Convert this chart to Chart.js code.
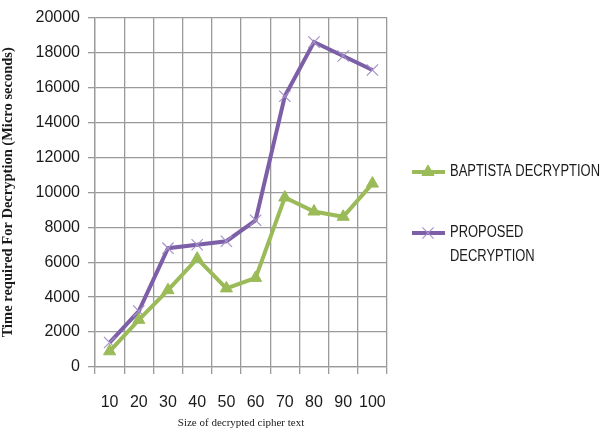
<!DOCTYPE html>
<html>
<head>
<meta charset="utf-8">
<script src="https://cdn.jsdelivr.net/npm/chart.js@4.4.1/dist/chart.umd.min.js"></script>
<style>
  html, body { margin: 0; padding: 0; background: #fff; }
  #wrap { width: 614px; height: 432px; }
</style>
</head>
<body>
<div id="wrap"><canvas id="decChart" width="614" height="432"></canvas></div>
<script>
// chart data
const categories = ['10', '20', '30', '40', '50', '60', '70', '80', '90', '100'];
const baptista = [900, 2700, 4400, 6200, 4500, 5100, 9700, 8900, 8600, 10500];
const proposed = [1400, 3200, 6800, 7000, 7200, 8400, 15500, 18600, 17800, 17000];
const yMax = 20000;
const yStep = 2000;

const GREEN = '#9BBB59';
const PURPLE = '#7D5FA8';
const PURPLE_MARK = '#A592C9';
const GRID = '#9a9a9a';
const TEXT = '#1b1b1b';

// legend drawn by hand so the long label can wrap like the original
const sideLegend = {
    id: 'sideLegend',
    beforeDraw: function(chart) {
        const ctx = chart.ctx;
        ctx.save();
        ctx.fillStyle = '#fff';
        ctx.fillRect(0, 0, chart.width, chart.height);
        ctx.restore();
    },
    afterDraw: function(chart) {
        const ctx = chart.ctx;
        const items = [
            { ds: chart.data.datasets[0], y: 172, lines: ['BAPTISTA DECRYPTION'] },
            { ds: chart.data.datasets[1], y: 233, lines: ['PROPOSED', 'DECRYPTION'] }
        ];
        ctx.save();
        ctx.font = '16px "Liberation Sans", sans-serif';
        // squeeze text to the narrow look of the original font
        const sx = 150 / ctx.measureText('BAPTISTA DECRYPTION').width;
        items.forEach(function(it) {
            ctx.strokeStyle = it.ds.borderColor;
            ctx.lineWidth = 4;
            ctx.beginPath();
            ctx.moveTo(412, it.y);
            ctx.lineTo(445, it.y);
            ctx.stroke();
            ctx.fillStyle = it.ds.pointBackgroundColor;
            ctx.strokeStyle = it.ds.pointBorderColor;
            ctx.lineWidth = it.ds.pointBorderWidth;
            Chart.helpers.drawPoint(ctx, {
                pointStyle: it.ds.pointStyle,
                radius: it.ds.pointRadius,
                borderWidth: it.ds.pointBorderWidth
            }, 428, it.y);
            ctx.fillStyle = TEXT;
            ctx.textBaseline = 'middle';
            ctx.textAlign = 'left';
            it.lines.forEach(function(t, i) {
                ctx.save();
                ctx.translate(450, it.y + i * 24);
                ctx.scale(sx, 1);
                ctx.fillText(t, 0, 0);
                ctx.restore();
            });
        });
        ctx.restore();
    }
};

const ctx = document.getElementById('decChart').getContext('2d');

new Chart(ctx, {
    type: 'line',
    data: {
        labels: categories,
        datasets: [{
            label: 'BAPTISTA DECRYPTION',
            data: baptista,
            borderColor: GREEN,
            backgroundColor: GREEN,
            borderWidth: 4,
            pointStyle: 'triangle',
            pointRadius: 7,
            pointBorderWidth: 1,
            pointBackgroundColor: GREEN,
            pointBorderColor: GREEN,
            tension: 0
        }, {
            label: 'PROPOSED DECRYPTION',
            data: proposed,
            borderColor: PURPLE,
            backgroundColor: PURPLE_MARK,
            borderWidth: 4,
            pointStyle: 'crossRot',
            pointRadius: 8,
            pointBorderWidth: 1.2,
            pointBackgroundColor: PURPLE_MARK,
            pointBorderColor: PURPLE_MARK,
            tension: 0
        }]
    },
    options: {
        responsive: false,
        animation: false,
        layout: { padding: { top: 16, right: 227, left: 0, bottom: 0 } },
        plugins: {
            legend: { display: false },
            tooltip: { enabled: false }
        },
        scales: {
            x: {
                offset: true,
                grid: { offset: true, color: GRID, lineWidth: 1.3, tickLength: 7 },
                border: { color: GRID, width: 1.3 },
                ticks: {
                    color: TEXT,
                    padding: 19,
                    maxRotation: 0,
                    minRotation: 0,
                    autoSkip: false,
                    font: { family: '"Liberation Sans", sans-serif', size: 16 }
                },
                title: {
                    display: true,
                    text: 'Size of decrypted cipher text',
                    color: TEXT,
                    padding: { top: 0, bottom: 2 },
                    font: { family: '"Liberation Serif", serif', size: 11 }
                },
                afterFit: function(scale) { scale.height = 65; }
            },
            y: {
                min: 0,
                max: yMax,
                grid: { color: GRID, lineWidth: 1.3, tickLength: 7 },
                border: { color: GRID, width: 1.3 },
                ticks: {
                    stepSize: yStep,
                    color: TEXT,
                    padding: 8,
                    callback: function(v) { return String(v); },
                    font: { family: '"Liberation Sans", sans-serif', size: 16 }
                },
                title: {
                    display: true,
                    text: 'Time required For Decryption (Micro seconds)',
                    color: TEXT,
                    padding: { top: 0, bottom: 0 },
                    font: { family: '"Liberation Serif", serif', size: 14.5, weight: 'bold' }
                },
                afterFit: function(scale) { scale.width = 95; }
            }
        }
    },
    plugins: [sideLegend]
});
</script>
</body>
</html>
